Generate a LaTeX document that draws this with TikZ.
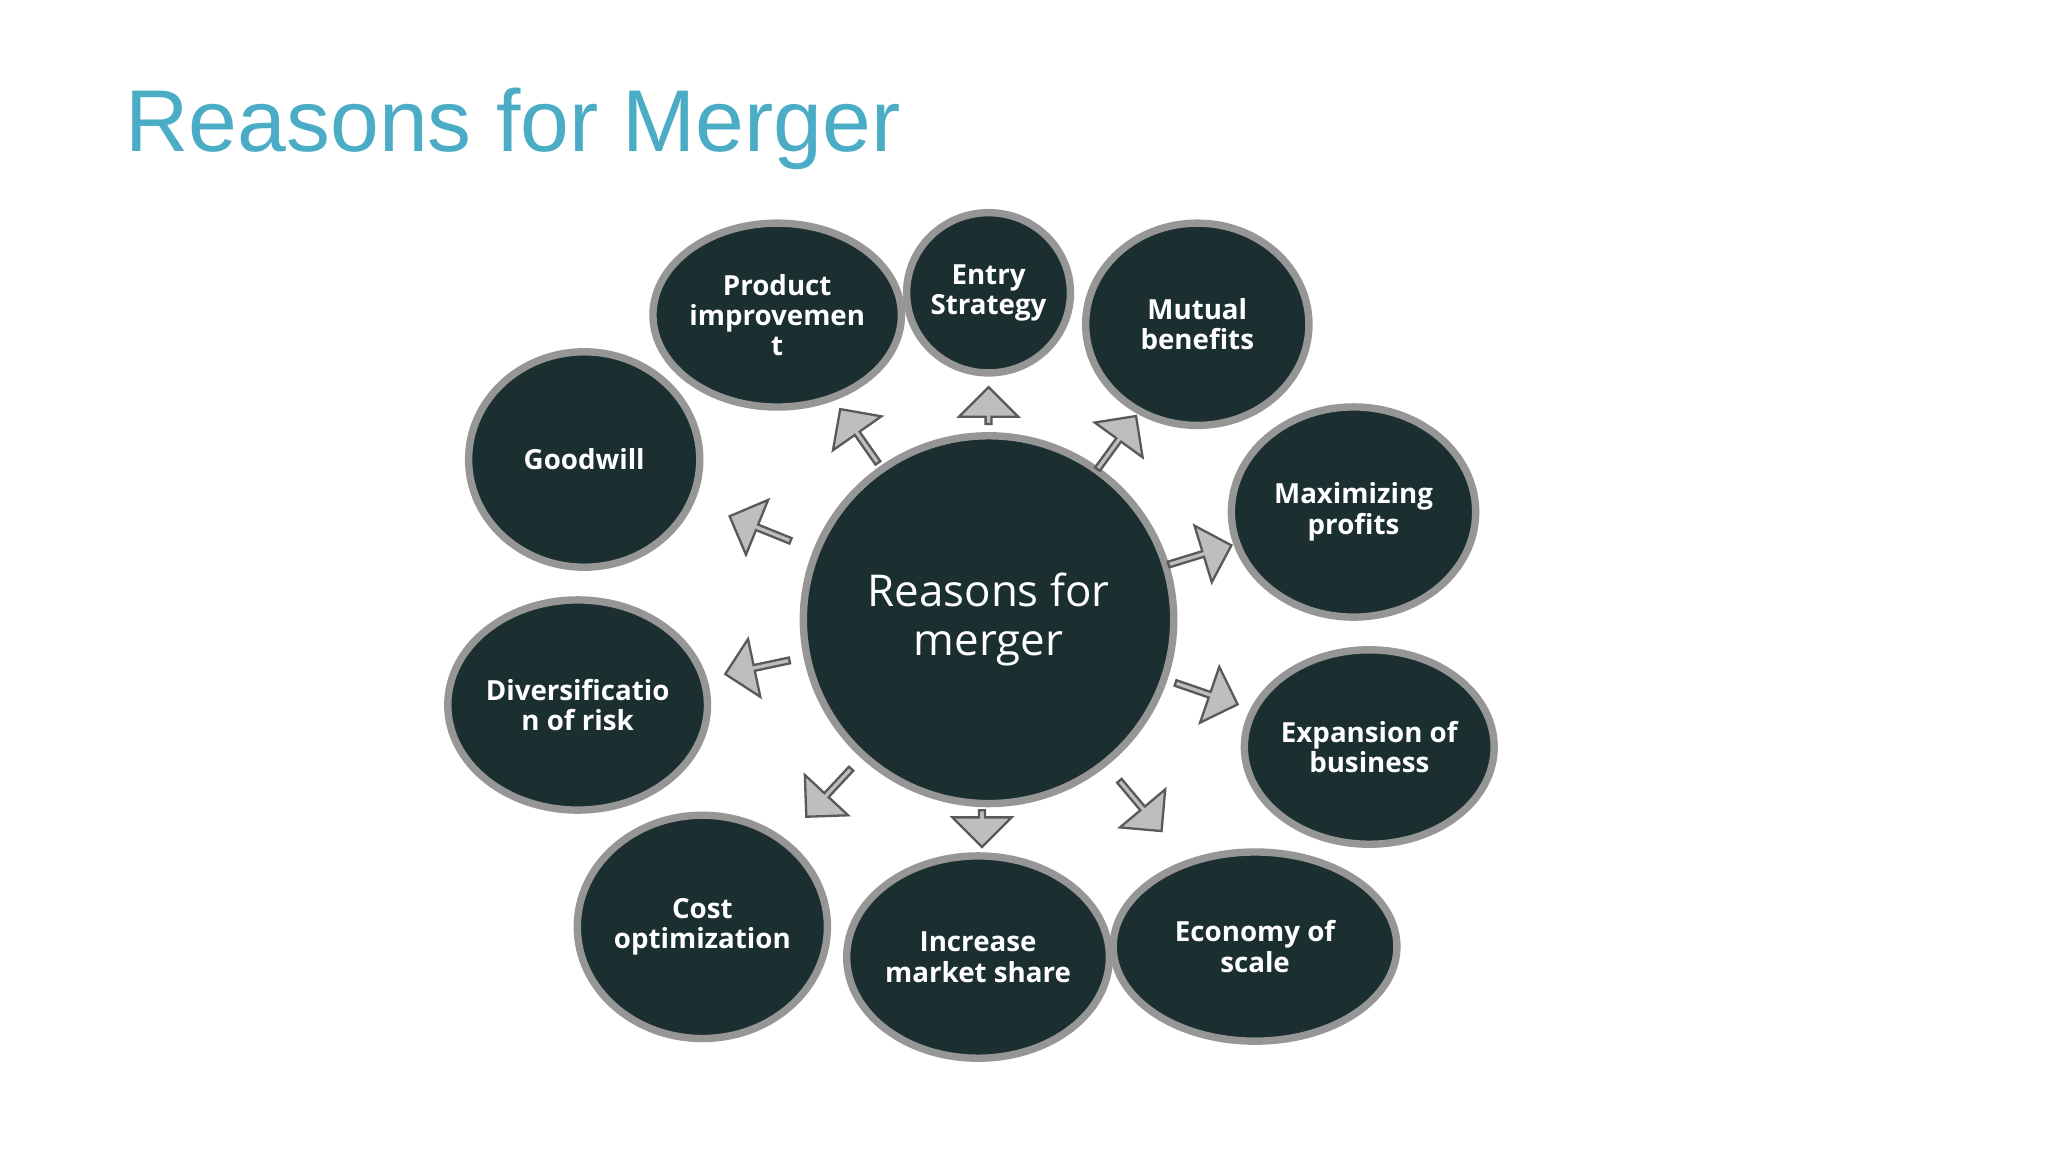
\documentclass[tikz,border=0pt]{standalone}
\usepackage{fontspec}
\setmainfont{Liberation Sans}
\newfontfamily\bodyfont{Open Sans}
\usetikzlibrary{shapes.geometric,shapes.arrows}
\definecolor{titleblue}{RGB}{75,172,198}
\definecolor{darkteal}{RGB}{27,46,48}
\definecolor{rimgrey}{RGB}{150,150,150}
\definecolor{arrowgrey}{RGB}{190,190,190}
\tikzset{
  bubble/.style={ellipse, fill=darkteal, draw=rimgrey, line width=1.6pt, inner sep=0pt,
    text=white, font=\bodyfont\bfseries\fontsize{6pt}{6.6pt}\selectfont, align=center},
  blockarrow/.style={single arrow, fill=arrowgrey, draw=gray!70!black, line width=0.5pt,
    minimum height=0.5cm, minimum width=0.45cm, single arrow head extend=0.08cm, inner sep=0pt}
}
\begin{document}
\begin{tikzpicture}[x=0.01cm,y=-0.01cm]
\useasboundingbox (0,0) rectangle (1560,877.5);
\fill[white] (0,0) rectangle (1560,877.5);
\node[anchor=west, text=titleblue, font=\fontsize{19pt}{22pt}\selectfont, inner sep=0pt] (title) at (95,98) {Reasons for Merger};
\node[bubble, minimum width=2.82cm, minimum height=2.8cm, font=\bodyfont\fontsize{9.5pt}{10.5pt}\selectfont] (c) at (753,472) {Reasons for\\merger};
\node[bubble, minimum width=1.76cm, minimum height=1.4cm] (pi) at (592,240) {Product\\improvemen\\t};
\node[bubble, minimum width=1.22cm, minimum height=1.22cm] (es) at (753,223) {Entry\\Strategy};
\node[bubble, minimum width=1.7cm, minimum height=1.54cm] (mb) at (912,247) {Mutual\\benefits};
\node[bubble, minimum width=1.86cm, minimum height=1.6cm] (mp) at (1031,390) {Maximizing\\profits};
\node[bubble, minimum width=1.86cm, minimum height=1.48cm] (eb) at (1043,569) {Expansion of\\business};
\node[bubble, minimum width=2.16cm, minimum height=1.44cm] (ec) at (956,721) {Economy of\\scale};
\node[bubble, minimum width=1.92cm, minimum height=1.54cm] (im) at (745,729) {Increase\\market share};
\node[bubble, minimum width=1.84cm, minimum height=1.7cm] (co) at (535,706) {Cost\\optimization};
\node[bubble, minimum width=1.92cm, minimum height=1.6cm] (dr) at (440,537) {Diversificatio\\n of risk};
\node[bubble, minimum width=1.76cm, minimum height=1.64cm] (gw) at (445,350) {Goodwill};
\node[blockarrow, rotate=158] (a1) at (580,403) {};
\node[blockarrow, rotate=125] (a2) at (655,333) {};
\node[blockarrow, rotate=90, minimum height=0.28cm] (a3) at (753,310) {};
\node[blockarrow, rotate=54] (a4) at (850,338) {};
\node[blockarrow, rotate=17] (a5) at (913,423) {};
\node[blockarrow, rotate=-19] (a6) at (918,528) {};
\node[blockarrow, rotate=-50] (a7) at (868,613) {};
\node[blockarrow, rotate=-90, minimum height=0.28cm] (a8) at (748,630) {};
\node[blockarrow, rotate=-133] (a9) at (632,603) {};
\node[blockarrow, rotate=-168] (a10) at (578,508) {};
\end{tikzpicture}
\end{document}
